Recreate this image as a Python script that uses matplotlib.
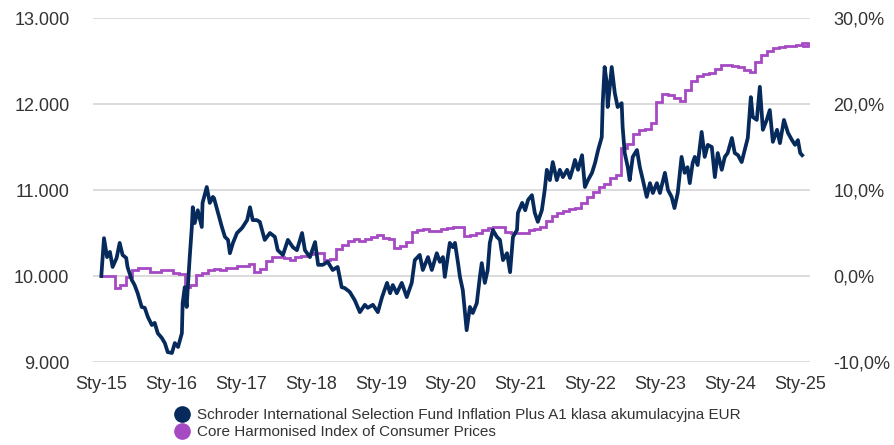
import pandas as pd
import matplotlib
matplotlib.use("Agg")
import matplotlib.pyplot as plt
from matplotlib.ticker import FuncFormatter
from matplotlib.lines import Line2D

plt.rcParams["font.family"] = ["Liberation Sans", "DejaVu Sans"]

# ── fund value (left axis) ──
fund_dates = [
    "2015-01-02", "2015-01-16", "2015-02-01", "2015-02-16", "2015-03-02", "2015-03-23", "2015-04-08",
    "2015-04-23", "2015-05-12", "2015-05-19", "2015-06-10", "2015-06-25", "2015-07-11", "2015-08-01",
    "2015-08-17", "2015-09-02", "2015-09-23", "2015-10-08", "2015-10-24", "2015-11-14", "2015-11-30",
    "2015-12-15", "2016-01-06", "2016-01-21", "2016-02-07", "2016-02-27", "2016-03-02", "2016-03-13",
    "2016-03-23", "2016-03-29", "2016-04-08", "2016-04-19", "2016-04-24", "2016-05-04", "2016-05-20",
    "2016-06-10", "2016-06-14", "2016-07-06", "2016-07-22", "2016-08-07", "2016-08-13", "2016-09-03",
    "2016-09-23", "2016-10-09", "2016-10-25", "2016-11-04", "2016-11-20", "2016-12-11", "2017-01-07",
    "2017-02-02", "2017-02-17", "2017-03-03", "2017-03-24", "2017-04-09", "2017-05-05", "2017-06-01",
    "2017-06-27", "2017-07-12", "2017-08-08", "2017-09-03", "2017-09-29", "2017-10-20", "2017-11-16",
    "2017-12-01", "2017-12-27", "2018-01-23", "2018-02-08", "2018-03-04", "2018-03-30", "2018-04-25",
    "2018-05-21", "2018-06-11", "2018-06-27", "2018-07-23", "2018-08-18", "2018-09-14", "2018-10-10",
    "2018-10-25", "2018-11-21", "2018-12-17", "2019-01-08", "2019-02-03", "2019-02-19", "2019-03-05",
    "2019-03-26", "2019-04-21", "2019-05-17", "2019-06-12", "2019-06-28", "2019-07-24", "2019-08-09",
    "2019-09-05", "2019-09-25", "2019-10-21", "2019-11-06", "2019-11-22", "2019-12-02", "2019-12-28",
    "2020-01-13", "2020-01-24", "2020-02-09", "2020-02-19", "2020-03-05", "2020-03-25", "2020-04-11",
    "2020-04-26", "2020-05-17", "2020-06-02", "2020-06-12", "2020-06-28", "2020-07-13", "2020-07-24",
    "2020-08-09", "2020-08-30", "2020-09-15", "2020-10-01", "2020-10-22", "2020-11-07", "2020-11-22",
    "2020-12-13", "2020-12-18", "2021-01-09", "2021-01-25", "2021-02-09", "2021-03-01", "2021-03-16",
    "2021-04-01", "2021-04-22", "2021-05-07", "2021-05-18", "2021-06-03", "2021-06-18", "2021-07-09",
    "2021-07-25", "2021-08-10", "2021-09-01", "2021-09-16", "2021-10-01", "2021-10-12", "2021-10-28",
    "2021-11-18", "2021-12-03", "2021-12-19", "2022-01-09", "2022-01-25", "2022-02-10", "2022-03-01",
    "2022-03-06", "2022-03-16", "2022-03-27", "2022-04-01", "2022-04-12", "2022-04-22", "2022-05-08",
    "2022-05-23", "2022-06-13", "2022-06-18", "2022-06-29", "2022-07-15", "2022-07-25", "2022-08-10",
    "2022-09-01", "2022-09-16", "2022-10-02", "2022-10-22", "2022-11-08", "2022-11-23", "2022-12-14",
    "2022-12-30", "2023-01-25", "2023-02-10", "2023-03-01", "2023-03-16", "2023-04-02", "2023-04-22",
    "2023-05-08", "2023-05-23", "2023-06-04", "2023-06-19", "2023-06-30", "2023-07-15", "2023-08-05",
    "2023-08-21", "2023-09-06", "2023-09-27", "2023-10-13", "2023-10-28", "2023-11-18", "2023-12-04",
    "2023-12-19", "2024-01-10", "2024-01-25", "2024-02-11", "2024-03-01", "2024-03-17", "2024-04-02",
    "2024-04-18", "2024-04-28", "2024-05-19", "2024-06-04", "2024-06-20", "2024-07-10", "2024-07-26",
    "2024-08-11", "2024-09-02", "2024-09-17", "2024-10-08", "2024-10-29", "2024-11-19", "2024-12-05",
    "2024-12-20", "2025-01-01", "2025-01-11",
]
fund_values = [
    10000, 10440, 10220, 10280, 10105, 10210, 10385,
    10245, 10210, 10105, 9955, 9895, 9800, 9640,
    9630, 9525, 9430, 9455, 9335, 9280, 9220,
    9115, 9105, 9220, 9175, 9335, 9685, 9870,
    9640, 9870, 10220, 10570, 10800, 10615, 10765,
    10570, 10850, 11035, 10850, 10920, 10905, 10735,
    10570, 10455, 10420, 10265, 10385, 10500, 10560,
    10650, 10800, 10650, 10650, 10630, 10420, 10500,
    10455, 10300, 10245, 10420, 10335, 10300, 10500,
    10300, 10220, 10395, 10130, 10130, 10165, 10070,
    10105, 9870, 9860, 9815, 9720, 9580, 9665,
    9630, 9665, 9580, 9755, 9920, 9800, 9895,
    9800, 9920, 9755, 9920, 10185, 10245, 10070,
    10220, 10070, 10265, 10165, 10220, 9990, 10385,
    10335, 10385, 10150, 9990, 9835, 9370, 9640,
    9570, 9685, 9990, 10150, 9920, 10070, 10385,
    10535, 10455, 10420, 10185, 10265, 10045, 10455,
    10535, 10735, 10850, 10765, 10885, 10940, 10735,
    10630, 10765, 11000, 11235, 11115, 11325, 11115,
    11235, 11150, 11235, 11140, 11255, 11350, 11235,
    11405, 11035, 11115, 11200, 11315, 11465, 11615,
    12010, 12430, 12245, 11965, 12200, 12430, 12130,
    11965, 12010, 11735, 11430, 11265, 11115, 11385,
    11465, 11265, 11115, 10920, 11080, 10965, 11080,
    10965, 11200, 11000, 10920, 10790, 10965, 11385,
    11200, 11265, 11080, 11315, 11385, 11290, 11675,
    11385, 11525, 11500, 11150, 11430, 11235, 11385,
    11430, 11605, 11430, 11405, 11325, 11465, 11605,
    12080, 11850, 11815, 12200, 11700, 11815, 11930,
    11560, 11700, 11545, 11815, 11665, 11580, 11525,
    11580, 11430, 11405,
]

# ── core HICP, % change since start (right axis), one value per month ──
cpi_start = "2015-01-01"
cpi_first_step = "2015-02-12"
cpi_end = "2025-01-17"
cpi_pct = [
    0.0, -1.4, -1.0, -0.1, 0.7, 0.9, 0.9, 0.5, 0.5, 0.7, 0.7, 0.35,
    0.25, -1.3, -1.1, 0.1, 0.35, 0.7, 0.8, 0.7, 0.9, 0.9, 1.15, 1.15,
    1.35, 0.45, 0.85, 1.75, 2.2, 2.2, 2.1, 1.85, 2.2, 2.3, 2.55, 2.65,
    2.65, 1.9, 2.0, 3.1, 3.6, 4.1, 4.3, 4.05, 4.25, 4.5, 4.75, 4.4,
    4.25, 3.25, 3.5, 4.0, 5.1, 5.4, 5.5, 5.2, 5.2, 5.45, 5.6, 5.65,
    5.7, 4.7, 4.75, 5.05, 5.4, 5.6, 5.7, 5.7, 5.1, 5.05, 5.05, 5.0,
    5.35, 5.45, 5.65, 6.4, 7.0, 7.3, 7.6, 7.8, 7.95, 8.5, 9.2, 9.75,
    10.3, 10.75, 11.4, 11.75, 14.9, 15.3, 16.5, 17.0, 17.15, 17.8, 20.2, 21.2,
    21.0, 20.65, 20.35, 21.6, 22.7, 23.25, 23.5, 23.6, 24.1, 24.5, 24.55, 24.4,
    24.25, 24.0, 23.7, 24.9, 25.7, 26.15, 26.5, 26.6, 26.75, 26.8, 26.85, 27.1,
    26.7,
]

fund_label = "Schroder International Selection Fund Inflation Plus A1 klasa akumulacyjna EUR"
cpi_label = "Core Harmonised Index of Consumer Prices"
year_ticks = ["2015-01-01", "2016-01-01", "2017-01-01", "2018-01-01", "2019-01-01", "2020-01-01",
              "2021-01-01", "2022-01-01", "2023-01-01", "2024-01-01", "2025-01-01"]
year_labels = ["Sty-15", "Sty-16", "Sty-17", "Sty-18", "Sty-19", "Sty-20",
               "Sty-21", "Sty-22", "Sty-23", "Sty-24", "Sty-25"]
left_ticks = [9000, 10000, 11000, 12000, 13000]
right_ticks = [-10, 0, 10, 20, 30]

navy = "#062a5c"
purple = "#a64ac4"
text_col = "#333333"

# monthly steps dated the 12th, plus the first and last day
step_dates = pd.date_range(cpi_first_step, periods=len(cpi_pct) - 1, freq="MS") + pd.Timedelta(days=11)
cpi_dates = [pd.Timestamp(cpi_start)] + list(step_dates) + [pd.Timestamp(cpi_end)]
cpi_vals = cpi_pct + [cpi_pct[-1]]

fig = plt.figure(figsize=(8.95, 4.45), dpi=100)
ax = fig.add_axes([0.104, 0.1865, 0.801, 0.773])
ax2 = ax.twinx()

# grid + purple line behind, navy line in front
ax.set_zorder(2)
ax2.set_zorder(1)
ax.patch.set_visible(False)

ax2.plot(cpi_dates, cpi_vals, color=purple, lw=2.0, drawstyle="steps-post", solid_joinstyle="miter")
ax.plot(pd.to_datetime(fund_dates), fund_values, color=navy, lw=2.7, solid_joinstyle="round")

ax.set_ylim(9000, 13000)
ax2.set_ylim(-10, 30)
ax.set_yticks(left_ticks)
ax2.set_yticks(right_ticks)
ax.yaxis.set_major_formatter(FuncFormatter(lambda v, p: f"{v:,.0f}".replace(",", ".")))
ax2.yaxis.set_major_formatter(FuncFormatter(lambda v, p: f"{v:.1f}%".replace(".", ",")))

ax.set_xlim(pd.Timestamp("2014-11-20"), pd.Timestamp("2025-02-21"))
ax.set_xticks(pd.to_datetime(year_ticks))
ax.set_xticklabels(year_labels)

ax2.grid(axis="y", color="#d9d9d9", lw=1.3)
ax.grid(False)
for a in (ax, ax2):
    for s in a.spines.values():
        s.set_visible(False)
ax.tick_params(axis="y", length=0, pad=17, labelsize=13, labelcolor=text_col)
ax2.tick_params(axis="y", length=0, pad=17, labelsize=13, labelcolor=text_col)
ax.tick_params(axis="x", length=0, pad=10, labelsize=13, labelcolor=text_col)

handles = [
    Line2D([], [], ls="none", marker="o", ms=11, color=navy),
    Line2D([], [], ls="none", marker="o", ms=11, color=purple),
]
fig.legend(handles, [fund_label, cpi_label], loc="upper left",
           bbox_to_anchor=(0.195, 1 - 408 / 445), frameon=False, fontsize=11,
           handletextpad=0.45, labelspacing=0.2, borderaxespad=0, borderpad=0,
           handlelength=1.0, labelcolor=text_col)

fig.savefig("out.png", dpi=100)
